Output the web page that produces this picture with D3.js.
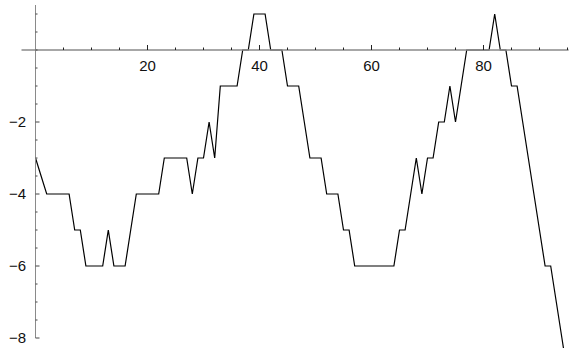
<!DOCTYPE html>
<html lang="en">
<head>
    <meta charset="UTF-8">
    <title>Walk</title>
    <script src="https://cdn.jsdelivr.net/npm/d3@7"></script>
    <style>
        body { margin: 0; background: #fff; }
        text { font-family: "Liberation Sans", "DejaVu Sans", sans-serif; font-size: 15px; fill: #111; }
    </style>
</head>
<body>
    <svg width="570" height="348" id="chart"></svg>
    <script>
        // sample positions and walk values
        var steps = d3.range(0, 96);
        var walk = [
            -3, -3.5, -4, -4, -4, -4, -4, -5, -5, -6,
            -6, -6, -6, -5, -6, -6, -6, -5, -4, -4,
            -4, -4, -4, -3, -3, -3, -3, -3, -4, -3,
            -3, -2, -3, -1, -1, -1, -1, 0, 0, 1,
            1, 1, 0, 0, 0, -1, -1, -1, -2, -3,
            -3, -3, -4, -4, -4, -5, -5, -6, -6, -6,
            -6, -6, -6, -6, -6, -5, -5, -4, -3, -4,
            -3, -3, -2, -2, -1, -2, -1, 0, 0, 0,
            0, 0, 1, 0, 0, -1, -1, -2, -3, -4,
            -5, -6, -6, -7, -8, -9
        ];
        var xLabels = [20, 40, 60, 80];
        var xMinor = d3.range(5, 96, 5);
        var yLabels = [-8, -6, -4, -2];
        var yMinor = d3.range(-8, 1.01, 0.5);

        var svg = d3.select('#chart');

        var x = d3.scaleLinear().domain([0, 95]).range([35.5, 567.5]);
        var y = d3.scaleLinear().domain([-8, 1]).range([338, 14]);

        // the walk itself, axes go on top of it
        var line = d3.line()
            .x(function(d, i) { return x(steps[i]); })
            .y(function(d) { return y(d); });

        svg.append('path')
            .datum(walk)
            .attr('d', line)
            .attr('fill', 'none')
            .attr('stroke', '#000')
            .attr('stroke-width', 1.2)
            .attr('stroke-linejoin', 'miter');

        svg.append('line')
            .attr('x1', x(-2.5)).attr('x2', x(95.2))
            .attr('y1', y(0)).attr('y2', y(0))
            .attr('stroke', '#8a8a8a').attr('stroke-width', 1.4);

        svg.append('line')
            .attr('x1', x(0)).attr('x2', x(0))
            .attr('y1', y(1.25)).attr('y2', y(-8))
            .attr('stroke', '#8a8a8a').attr('stroke-width', 1);

        // x ticks point up from the axis
        svg.selectAll('line.xtick')
            .data(xMinor)
            .enter()
            .append('line')
            .attr('class', 'xtick')
            .attr('x1', function(d) { return x(d); })
            .attr('x2', function(d) { return x(d); })
            .attr('y1', y(0))
            .attr('y2', function(d) { return y(0) - (d % 20 == 0 ? 5 : 2.5); })
            .attr('stroke', '#222').attr('stroke-width', 1);

        svg.selectAll('text.xlabel')
            .data(xLabels)
            .enter()
            .append('text')
            .attr('class', 'xlabel')
            .attr('x', function(d) { return x(d); })
            .attr('y', y(0) + 21)
            .attr('text-anchor', 'middle')
            .text(function(d) { return d; });

        // y ticks point right
        svg.selectAll('line.ytick')
            .data(yMinor)
            .enter()
            .append('line')
            .attr('class', 'ytick')
            .attr('x1', x(0))
            .attr('x2', function(d) { return x(0) + (yLabels.indexOf(d) >= 0 ? 4 : 2); })
            .attr('y1', function(d) { return y(d); })
            .attr('y2', function(d) { return y(d); })
            .attr('stroke', '#444').attr('stroke-width', 1);

        svg.selectAll('text.ylabel')
            .data(yLabels)
            .enter()
            .append('text')
            .attr('class', 'ylabel')
            .attr('x', 26)
            .attr('y', function(d) { return y(d) + 5; })
            .attr('text-anchor', 'end')
            .text(function(d) { return '\u2212' + Math.abs(d); });
    </script>
</body>
</html>
